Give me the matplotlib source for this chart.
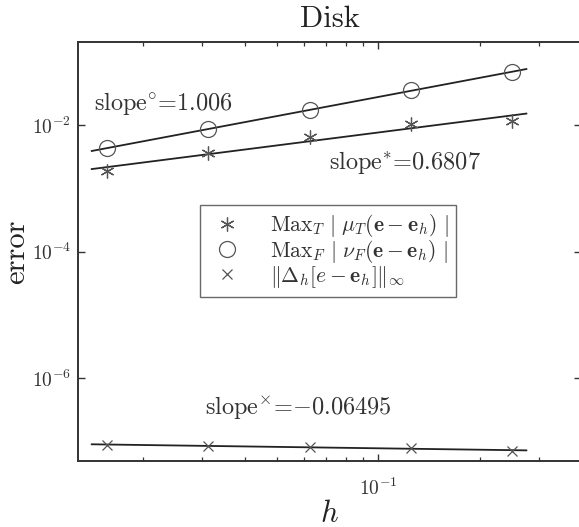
import numpy as np
import matplotlib
matplotlib.use("Agg")
import matplotlib.pyplot as plt

plt.rcParams['mathtext.fontset'] = 'cm'
plt.rcParams['font.family'] = ['cmr10', 'DejaVu Serif']
plt.rcParams['axes.formatter.use_mathtext'] = True

h = [1/64, 1/32, 1/16, 1/8, 1/4]
err_T = [1.87e-3, 3.61e-3, 6.46e-3, 1.04e-2, 1.16e-2]
err_F = [4.33e-3, 8.6e-3, 1.73e-2, 3.57e-2, 6.87e-2]
err_D = [8.8e-8, 8.5e-8, 8.2e-8, 7.8e-8, 7.1e-8]
slope_labels = [r'slope$^{\circ}$=1.006', r'slope$^{*}$=0.6807', r'slope$^{\times}$=$-$0.06495']
legend_labels = [r'$\mathrm{Max}_T\ |\ \mu_T(\mathbf{e}-\mathbf{e}_h)\ |$',
                 r'$\mathrm{Max}_F\ |\ \nu_F(\mathbf{e}-\mathbf{e}_h)\ |$',
                 r'$\Vert\mathbf{\Delta}_h[e-\mathbf{e}_h]\Vert_\infty$']

fig = plt.figure(figsize=(5.79, 5.27), dpi=100)
ax = fig.add_axes([0.1347, 0.1252, 0.869, 0.7948])
ax.set_xscale('log')
ax.set_yscale('log')

hx = np.array(h)
hfit = np.array([hx.min() * 0.9, hx.max() * 1.1])
mcol = '#555555'
lcol = '#222222'
for data, mk, ms, lab in [(err_T, '*', 10, legend_labels[0]),
                          (err_F, 'o', 11.5, legend_labels[1]),
                          (err_D, 'x', 7, legend_labels[2])]:
    y = np.array(data)
    p = np.polyfit(np.log10(hx), np.log10(y), 1)
    ax.plot(hfit, 10 ** np.polyval(p, np.log10(hfit)), color=lcol, lw=1.3)
    if mk == '*':
        ax.plot(hx, y, linestyle='none', marker=(6, 2, 0), ms=ms, mec=mcol, mew=0.9, label=lab)
    else:
        ax.plot(hx, y, linestyle='none', marker=mk, ms=ms, mec=mcol, mfc='none', mew=0.9, label=lab)

ax.set_xlim(0.0128, 0.4)
ax.set_ylim(10 ** -7.31, 10 ** -0.69)

ax.text(0.0143, 10 ** -1.66, slope_labels[0], fontsize=17.5, color='#333333', va='center')
ax.text(0.0711, 10 ** -2.59, slope_labels[1], fontsize=17.5, color='#333333', va='center')
ax.text(0.0306, 10 ** -6.46, slope_labels[2], fontsize=17.5, color='#333333', va='center')

ax.set_title('Disk', fontsize=22, color='#222222', pad=11)
ax.set_xlabel(r'$h$', fontsize=22, color='#222222', labelpad=1)
ax.set_ylabel('error', fontsize=22, color='#222222', labelpad=1)

ax.set_yticks([1e-6, 1e-4, 1e-2])
ax.yaxis.set_minor_locator(matplotlib.ticker.NullLocator())
ax.set_xticks([1e-1])
ax.tick_params(which='both', direction='in', top=True, right=True, labelsize=14,
               colors='#333333')
ax.tick_params(axis='x', which='major', pad=12)
ax.tick_params(axis='y', which='major', pad=5)
ax.tick_params(which='major', length=5, width=1.0)
ax.tick_params(which='minor', length=3, width=0.9)
for s in ax.spines.values():
    s.set_linewidth(1.4)
    s.set_color('#333333')

leg = ax.legend(loc='upper left', bbox_to_anchor=(0.2417, 0.612), fontsize=15.5,
                frameon=True, fancybox=False, edgecolor='#444444', handletextpad=1.1,
                borderpad=0.35, labelspacing=-0.06, handlelength=1.8, borderaxespad=0)
leg.get_frame().set_linewidth(1.0)
for t in leg.get_texts():
    t.set_color('#333333')

fig.savefig('out.png', dpi=100)
